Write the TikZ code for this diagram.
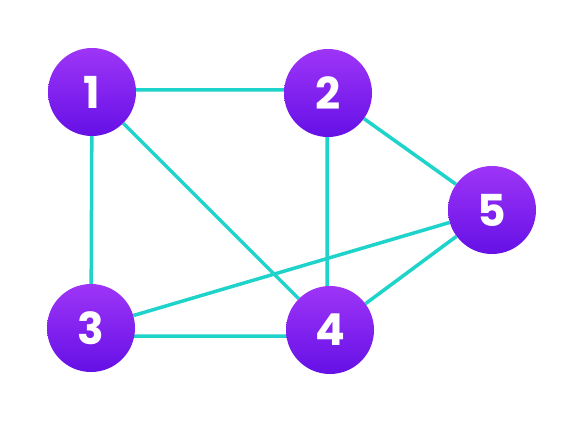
\documentclass[tikz,border=0pt]{standalone}
\usepackage{fontspec}
\setmainfont{Poppins}
\usetikzlibrary{backgrounds}
\definecolor{edgec}{HTML}{1ED3C9}
\definecolor{topc}{HTML}{9E35F7}
\definecolor{botc}{HTML}{6510E6}
\begin{document}
\begin{tikzpicture}[x=1pt,y=-1pt,
  vert/.style={circle,minimum size=88pt,inner sep=0pt,top color=topc,bottom color=botc,draw=none,
    text=white,font=\fontsize{44}{44}\selectfont\bfseries},
  edge/.style={draw=edgec,line width=3.5pt}]
\useasboundingbox (0,0) rectangle (584,422);
\node[vert] (n1) at (92,92) {1};
\node[vert] (n2) at (328,93) {2};
\node[vert] (n3) at (91,328) {3};
\node[vert] (n4) at (330,330) {4};
\node[vert] (n5) at (492,210) {5};
\begin{pgfonlayer}{background}
\path[edge] ([yshift=2pt]n1.center) -- ([yshift=3pt]n2.center)
  (n1) -- (n3) (n1) -- (n4)
  ([xshift=-1pt]n2.center) -- ([xshift=-3pt]n4.center)
  (n2) -- (n5) (n3) -- (n5)
  ([yshift=-8pt]n3.center) -- ([yshift=-6pt]n4.center) (n4) -- (n5);
\end{pgfonlayer}
\end{tikzpicture}
\end{document}
